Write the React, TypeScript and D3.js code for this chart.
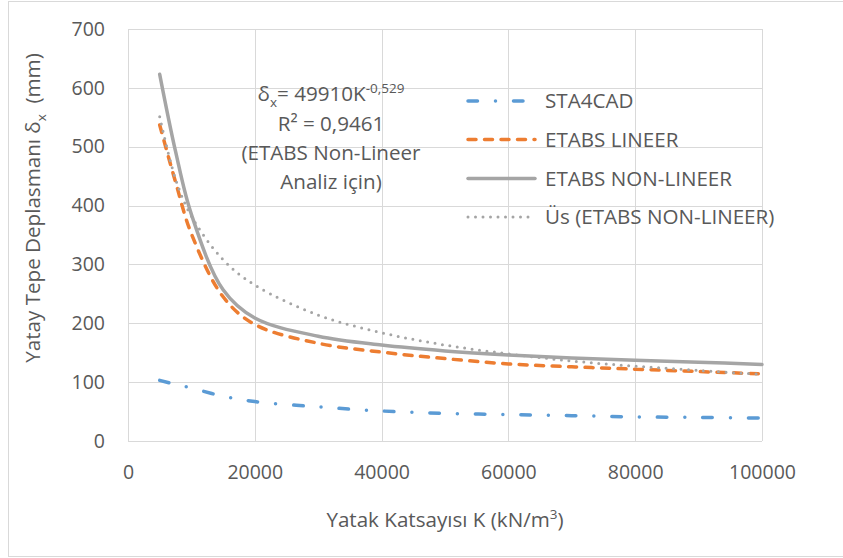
import React, { useEffect, useRef } from 'react';
import * as d3 from 'd3';

// Yatak katsayısı K (kN/m3) values where the curves were read
const kValues = [5000, 7500, 10000, 15000, 20000, 30000, 40000, 50000, 60000, 70000, 80000, 90000, 100000];
const sta4cad = [103, 96, 90, 76, 67, 58, 51, 47, 45, 43, 41, 40, 39];
const etabsLineer = [537, 440, 352, 245, 198, 166, 151, 140, 131, 126, 122, 118, 114];
const etabsNonLineer = [623, 492, 385, 257, 209, 178, 163, 153, 146, 141, 137, 134, 130];
// power trendline of the non-linear series, as drawn
const trendValues = [551, 445, 382, 308, 265, 214, 184, 163, 148, 136, 127, 120, 113];

const xTicks = [0, 20000, 40000, 60000, 80000, 100000];
const yTicks = [0, 100, 200, 300, 400, 500, 600, 700];

const seriesNames = ['STA4CAD', 'ETABS LINEER', 'ETABS NON-LINEER', 'Üs (ETABS NON-LINEER)'];

const WIDTH = 843;
const HEIGHT = 558;
const FONT = '"Open Sans", sans-serif';
const TEXT = '#595959';
const LABEL_SIZE = '20.6px';

const App: React.FC = () => {
    const svgRef = useRef<SVGSVGElement>(null);

    useEffect(() => {
        if (!svgRef.current) return;
        const svg = d3.select(svgRef.current);
        svg.selectAll("*").remove();

        const x = d3.scaleLinear().domain([0, 100000]).range([128, 762]);
        const y = d3.scaleLinear().domain([0, 700]).range([441, 29]);

        // chart frame
        svg.append("rect")
            .attr("x", 8.5).attr("y", 1.5)
            .attr("width", 900).attr("height", 555)
            .attr("fill", "#fff")
            .attr("stroke", "#d9d9d9");

        // grid
        const grid = svg.append("g").attr("stroke", "#d9d9d9").attr("stroke-width", 1);
        yTicks.forEach(t => {
            grid.append("line")
                .attr("x1", x(0)).attr("x2", x(100000))
                .attr("y1", Math.round(y(t)) + 0.5).attr("y2", Math.round(y(t)) + 0.5);
        });
        xTicks.forEach(t => {
            grid.append("line")
                .attr("x1", Math.round(x(t)) + 0.5).attr("x2", Math.round(x(t)) + 0.5)
                .attr("y1", y(700)).attr("y2", y(0));
        });

        // axes (labels only)
        const yAxis = svg.append("g")
            .attr("transform", `translate(${x(0)},0)`)
            .call(d3.axisLeft(y).tickValues(yTicks).tickSize(0).tickPadding(23));
        const xAxis = svg.append("g")
            .attr("transform", `translate(0,${y(0)})`)
            .call(d3.axisBottom(x).tickValues(xTicks).tickSize(0).tickPadding(24).tickFormat(d3.format("d")));
        [yAxis, xAxis].forEach(a => {
            a.select(".domain").remove();
            a.selectAll("text")
                .attr("fill", TEXT)
                .style("font-family", FONT)
                .style("font-size", "19.5px");
        });

        // series
        const makeLine = (vals: number[]) =>
            d3.line<number>()
                .x((_, i) => x(kValues[i]))
                .y(d => y(d))
                .curve(d3.curveCatmullRom.alpha(0.5))(vals);

        const styles = [
            { data: sta4cad, color: '#5b9bd5', width: 3.5, dash: '9.5,18,0,18' },
            { data: etabsLineer, color: '#ed7d31', width: 3.5, dash: '8,8.5' },
            { data: etabsNonLineer, color: '#a5a5a5', width: 3.5, dash: null },
            { data: trendValues, color: '#a5a5a5', width: 3, dash: '0,7.5' },
        ];

        styles.forEach(s => {
            svg.append("path")
                .attr("d", makeLine(s.data))
                .attr("fill", "none")
                .attr("stroke", s.color)
                .attr("stroke-width", s.width)
                .attr("stroke-linecap", "round")
                .attr("stroke-dasharray", s.dash);
        });

        // legend
        const legendY = [101, 139.5, 178.5, 217];
        styles.forEach((s, i) => {
            svg.append("line")
                .attr("x1", 468).attr("x2", 535)
                .attr("y1", legendY[i]).attr("y2", legendY[i])
                .attr("stroke", s.color)
                .attr("stroke-width", s.width)
                .attr("stroke-linecap", "round")
                .attr("stroke-dasharray", s.dash);
            svg.append("text")
                .attr("x", 545).attr("y", legendY[i])
                .attr("dy", "0.35em")
                .attr("fill", TEXT)
                .style("font-family", FONT)
                .style("font-size", LABEL_SIZE)
                .text(seriesNames[i]);
        });

        // trendline equation
        const eq = svg.append("g")
            .attr("fill", TEXT)
            .style("font-family", FONT)
            .style("font-size", LABEL_SIZE)
            .attr("text-anchor", "middle");
        const l1 = eq.append("text").attr("x", 331).attr("y", 101);
        l1.append("tspan").text("δ");
        l1.append("tspan").attr("dy", 6).style("font-size", "13.5px").text("x");
        l1.append("tspan").attr("dy", -6).text("= 49910K");
        l1.append("tspan").attr("dy", -8).style("font-size", "13.5px").text("-0,529");
        eq.append("text").attr("x", 331).attr("y", 131).text("R² = 0,9461");
        eq.append("text").attr("x", 331).attr("y", 160).text("(ETABS Non-Lineer");
        eq.append("text").attr("x", 331).attr("y", 189).text("Analiz için)");

        // axis titles
        const xt = svg.append("text")
            .attr("x", 445).attr("y", 526.5)
            .attr("text-anchor", "middle")
            .attr("fill", TEXT)
            .style("font-family", FONT)
            .style("font-size", LABEL_SIZE);
        xt.append("tspan").text("Yatak Katsayısı K (kN/m");
        xt.append("tspan").attr("dy", -8).style("font-size", "13.5px").text("3");
        xt.append("tspan").attr("dy", 8).text(")");

        const yt = svg.append("text")
            .attr("transform", "translate(40,208) rotate(-90)")
            .attr("text-anchor", "middle")
            .attr("fill", TEXT)
            .style("font-family", FONT)
            .style("font-size", LABEL_SIZE)
            .style("white-space", "pre");
        yt.append("tspan").text("Yatay Tepe Deplasmanı δ");
        yt.append("tspan").attr("dy", 6).style("font-size", "13.5px").text("x");
        yt.append("tspan").attr("dy", -6).text("  (mm)");
    }, []);

    return (
        <svg
            ref={svgRef}
            width={WIDTH}
            height={HEIGHT}
            style={{ position: 'absolute', left: 0, top: 0, background: '#fff' }}
        />
    );
};

export default App;
